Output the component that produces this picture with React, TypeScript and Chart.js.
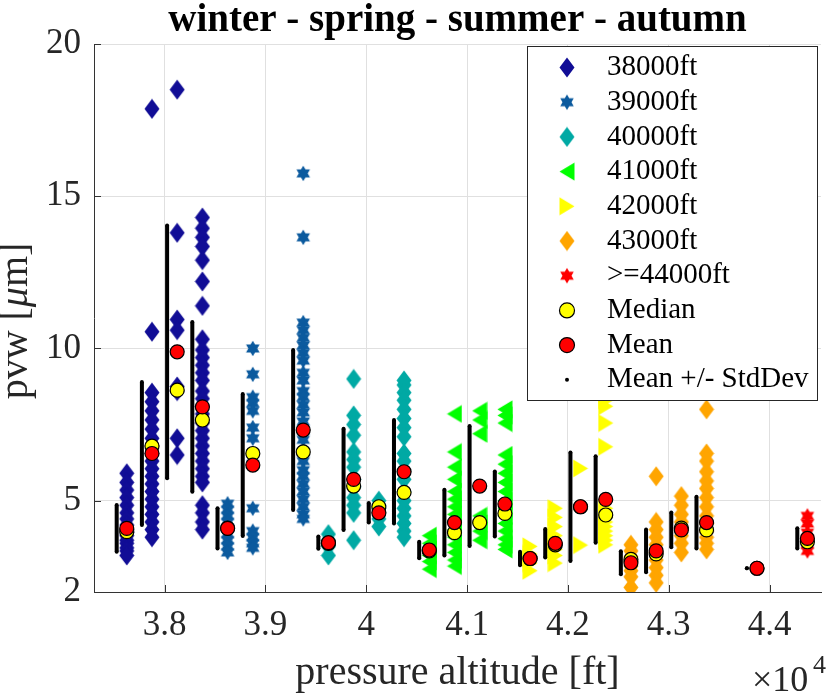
import React, { useRef, useEffect } from 'react';
import { Chart, registerables } from 'chart.js';

Chart.register(...registerables);

// pressure altitude classes and their legend names
const altitudes = [38000, 39000, 40000, 41000, 42000, 43000, 44000];
const altitudeLabels = ['38000ft', '39000ft', '40000ft', '41000ft', '42000ft', '43000ft', '>=44000ft'];
const seasons = ['winter', 'spring', 'summer', 'autumn'];
// x offset (ft) of each season column inside an altitude class
const seasonShift = [-375, -125, 125, 375];
const stdShift = -100;

const xTicks = [38000, 39000, 40000, 41000, 42000, 43000, 44000];
const yTicks = [2, 5, 10, 15, 20];

// pvw samples [um] per season: winter, spring, summer, autumn
const pvw38000 = [
  [5.9, 5.6, 5.35, 5.1, 4.85, 4.6, 4.4, 4.2, 4.05, 3.95, 3.85, 3.7, 3.6, 3.45, 3.35, 3.2],
  [17.87, 10.55, 8.55, 8.25, 7.95, 7.65, 7.35, 7.05, 6.8, 6.55, 6.3, 6.05, 5.8, 5.55, 5.3, 5.05, 4.8, 4.55, 4.3, 4.05, 3.8],
  [18.5, 13.8, 10.95, 10.6, 8.75, 8.6, 7.05, 6.5],
  [14.3, 13.95, 13.65, 13.35, 12.9, 12.2, 11.4, 10.3, 9.95, 9.7, 9.45, 9.2, 8.95, 8.6, 8.35, 8.1, 7.85, 7.55, 7.3, 7.05, 6.8, 6.55, 6.3, 6.05, 5.8, 5.6, 4.85, 4.6, 4.3, 4.05],
];
const pvw39000 = [
  [4.9, 4.7, 4.5, 4.3, 4.1, 3.9, 3.7, 3.5, 3.3],
  [10.0, 9.15, 8.4, 8.2, 7.95, 7.4, 7.05, 6.55, 6.2, 4.75, 4.0, 3.8, 3.6, 3.45],
  [],
  [15.75, 13.65, 10.85, 10.6, 10.35, 10.1, 9.85, 9.6, 9.2, 8.95, 8.6, 8.4, 8.15, 7.9, 7.6, 7.3, 7.0, 6.6, 6.3, 6.0, 5.8, 5.55, 5.3, 5.05, 4.8, 4.55, 4.4],
];
const pvw40000 = [
  [3.9, 3.7, 3.6, 3.5, 3.2],
  [9.0, 7.8, 7.5, 7.15, 6.6, 6.35, 6.1, 5.7, 5.45, 5.1, 4.85, 4.6, 3.7],
  [5.0, 4.85, 4.75, 4.6, 4.4, 4.15],
  [8.95, 8.8, 8.55, 8.3, 8.0, 7.7, 7.4, 7.1, 6.55, 6.3, 5.95, 5.7, 5.3, 5.0, 4.75, 4.5, 4.25, 4.0, 3.8],
];
const pvw41000 = [
  [3.85, 3.6, 3.4, 3.2, 3.0, 2.75],
  [7.85, 6.6, 6.1, 5.7, 5.3, 5.05, 4.8, 4.55, 4.3, 4.05, 3.8, 3.55, 3.3, 3.05, 2.85],
  [7.95, 7.65, 7.2, 4.5, 4.25, 4.0, 3.7],
  [8.0, 7.8, 7.55, 6.5, 6.2, 5.9, 5.6, 5.3, 5.0, 4.75, 4.5, 4.25, 4.0, 3.75, 3.55, 3.4],
];
const pvw42000 = [
  [3.5, 3.25, 3.1, 2.95, 2.7],
  [4.75, 4.45, 4.15, 3.85, 3.6, 3.4, 3.2, 2.95],
  [6.06, 3.54],
  [8.5, 8.3, 8.1, 7.55, 6.77, 4.75, 4.6, 4.45, 4.3, 4.15, 4.0, 3.85, 3.7, 3.55],
];
const pvw43000 = [
  [3.55, 3.35, 3.15, 3.0, 2.85, 2.7, 2.5, 2.15],
  [5.8, 4.3, 4.05, 3.8, 3.55, 3.3, 3.05, 2.8, 2.55, 2.3],
  [5.15, 4.85, 4.55, 4.3, 4.1, 3.85, 3.6, 3.3],
  [8.0, 6.55, 6.3, 5.95, 5.65, 5.4, 5.1, 4.8, 4.5, 4.25, 4.0, 3.8, 3.6, 3.4],
];
const pvw44000 = [
  [],
  [2.78],
  [],
  [4.5, 4.25, 3.95, 3.75, 3.55, 3.35],
];

// statistics per altitude class, per season (null = no data)
const medians = [
  [3.98, 6.79, 8.63, 7.65],
  [4.1, 6.55, null, 6.6],
  [3.6, 5.48, 4.8, 5.27],
  [3.35, 3.95, 4.28, 4.58],
  [3.1, 3.55, 4.8, 4.53],
  [3.07, 3.25, 4.1, 4.04],
  [null, 2.78, null, 3.65],
];
const means = [
  [4.09, 6.55, 9.89, 8.08],
  [4.09, 6.17, null, 7.32],
  [3.62, 5.7, 4.6, 5.95],
  [3.38, 4.28, 5.48, 4.89],
  [3.1, 3.6, 4.8, 5.04],
  [2.96, 3.35, 4.04, 4.28],
  [null, 2.78, null, 3.76],
];
const stdDevs = [
  [0.77, 2.35, 4.15, 2.79],
  [0.66, 2.33, null, 2.63],
  [0.2, 1.66, 0.32, 1.7],
  [0.27, 1.08, 1.97, 1.07],
  [0.22, 0.47, 1.78, 1.42],
  [0.38, 0.7, 0.57, 0.85],
  [null, 0, null, 0.33],
];

const samples = [pvw38000, pvw39000, pvw40000, pvw41000, pvw42000, pvw43000, pvw44000];
const colors = ['#110d96', '#0b5a9e', '#00a9a4', '#00ff00', '#ffff00', '#ffa500', '#ff0000'];
const shapes = ['diamond', 'hexagram', 'diamond', 'left', 'right', 'diamond', 'hexagram'];

const FONT = '"Liberation Serif"';

function makeMarker(shape: string, color: string): HTMLCanvasElement {
  const c = document.createElement('canvas');
  const g = c.getContext('2d')!;
  if (shape === 'diamond') {
    c.width = 16; c.height = 21;
    g.fillStyle = color;
    g.beginPath();
    g.moveTo(8, 0.5); g.lineTo(15.5, 10.5); g.lineTo(8, 20.5); g.lineTo(0.5, 10.5);
    g.closePath(); g.fill();
  } else if (shape === 'hexagram') {
    c.width = 16; c.height = 17;
    g.fillStyle = color;
    const R = 7.8, r = R / Math.sqrt(3);
    g.beginPath();
    for (let k = 0; k < 12; k++) {
      const a = -Math.PI / 2 + (k * Math.PI) / 6;
      const rr = k % 2 === 0 ? R : r;
      const px = 8 + rr * Math.cos(a), py = 8.5 + rr * Math.sin(a);
      if (k === 0) g.moveTo(px, py); else g.lineTo(px, py);
    }
    g.closePath(); g.fill();
  } else {
    c.width = 16; c.height = 19;
    g.fillStyle = color;
    g.beginPath();
    if (shape === 'left') {
      g.moveTo(0.5, 9.5); g.lineTo(15.5, 0.5); g.lineTo(15.5, 18.5);
    } else {
      g.moveTo(15.5, 9.5); g.lineTo(0.5, 0.5); g.lineTo(0.5, 18.5);
    }
    g.closePath(); g.fill();
  }
  return c;
}

const decorPlugin = {
  id: 'matlabDecor',
  afterDraw(chart: any) {
    const { ctx, chartArea, scales } = chart;
    const { left, right, top, bottom } = chartArea;
    ctx.save();

    // inward tick marks
    ctx.strokeStyle = '#333';
    ctx.lineWidth = 1;
    ctx.beginPath();
    xTicks.forEach((v) => {
      const px = Math.round(scales.x.getPixelForValue(v)) + 0.5;
      ctx.moveTo(px, bottom); ctx.lineTo(px, bottom - 7);
    });
    yTicks.forEach((v) => {
      const py = Math.round(scales.y.getPixelForValue(v)) + 0.5;
      ctx.moveTo(left, py); ctx.lineTo(left + 7, py);
    });
    ctx.stroke();

    // title
    ctx.fillStyle = '#000';
    ctx.textAlign = 'center';
    ctx.textBaseline = 'alphabetic';
    ctx.font = `bold 39px ${FONT}`;
    ctx.fillText(seasons.join(' - '), (left + right) / 2, 31);

    // x label
    ctx.fillStyle = '#262626';
    ctx.font = `40px ${FONT}`;
    ctx.fillText('pressure altitude [ft]', (left + right) / 2, 684);

    // exponent
    ctx.textAlign = 'left';
    ctx.font = `36px ${FONT}`;
    ctx.fillText('\u00d710', 752, 691);
    ctx.font = `26px ${FONT}`;
    ctx.fillText('4', 813, 673);

    // y label with italic mu
    ctx.save();
    ctx.translate(27, (top + bottom) / 2 + 3);
    ctx.rotate(-Math.PI / 2);
    const parts = [
      { t: 'pvw [', f: `40px ${FONT}` },
      { t: '\u03bc', f: `italic 40px ${FONT}` },
      { t: 'm]', f: `40px ${FONT}` },
    ];
    let total = 0;
    parts.forEach((p) => { ctx.font = p.f; total += ctx.measureText(p.t).width; });
    let cx = -total / 2;
    parts.forEach((p) => {
      ctx.font = p.f;
      ctx.fillText(p.t, cx, 0);
      cx += ctx.measureText(p.t).width;
    });
    ctx.restore();

    // legend box
    ctx.fillStyle = '#fff';
    ctx.fillRect(527, 46, 290, 354);
    ctx.strokeStyle = '#262626';
    ctx.strokeRect(527.5, 46.5, 290, 354);
    ctx.font = `29px ${FONT}`;
    ctx.textBaseline = 'middle';
    chart.data.datasets.forEach((ds: any, i: number) => {
      const y = 67.5 + i * 34.7;
      const x = 567;
      if (ds.pointStyle instanceof HTMLCanvasElement) {
        const img = ds.pointStyle;
        ctx.drawImage(img, x - img.width / 2, y - img.height / 2);
      } else {
        ctx.beginPath();
        ctx.arc(x, y, ds.legendRadius, 0, Math.PI * 2);
        ctx.fillStyle = ds.pointBackgroundColor;
        ctx.fill();
        if (ds.pointBorderWidth) {
          ctx.lineWidth = ds.pointBorderWidth;
          ctx.strokeStyle = '#000';
          ctx.stroke();
        }
      }
      ctx.fillStyle = '#000';
      ctx.fillText(ds.label, 607, y);
    });
    ctx.restore();
  },
};

const App: React.FC = () => {
  const canvas = useRef<HTMLCanvasElement>(null);

  useEffect(() => {
    document.body.style.margin = '0';
    if (!canvas.current) return;
    const ctx = canvas.current.getContext('2d');
    if (!ctx) return;

    const markers = shapes.map((s, i) => makeMarker(s, colors[i]));

    const altitudeSets = altitudes.map((alt, a) => ({
      label: altitudeLabels[a],
      data: samples[a].flatMap((vals, s) => vals.map((v) => ({ x: alt + seasonShift[s], y: v }))),
      pointStyle: markers[a],
      pointRadius: 8,
      order: 3,
    }));

    const medianData: any[] = [];
    const meanData: any[] = [];
    const stdData: any[] = [];
    altitudes.forEach((alt, a) => {
      seasonShift.forEach((shift, s) => {
        const m = means[a][s];
        const md = medians[a][s];
        const sd = stdDevs[a][s];
        if (md !== null) medianData.push({ x: alt + shift, y: md });
        if (m !== null && sd !== null) {
          meanData.push({ x: alt + shift, y: m });
          stdData.push({ x: alt + shift + stdShift, y: m - sd });
          stdData.push({ x: alt + shift + stdShift, y: m + sd });
          stdData.push({ x: alt + shift + stdShift, y: null });
        }
      });
    });

    const chart = new Chart(ctx, {
      type: 'scatter',
      data: {
        datasets: [
          ...altitudeSets,
          {
            label: 'Median',
            data: medianData,
            pointStyle: 'circle',
            pointRadius: 7,
            legendRadius: 7.5,
            pointBackgroundColor: '#ffff00',
            pointBorderColor: '#000',
            pointBorderWidth: 1.2,
            order: 1,
          },
          {
            label: 'Mean',
            data: meanData,
            pointStyle: 'circle',
            pointRadius: 7,
            legendRadius: 7.5,
            pointBackgroundColor: '#ff0000',
            pointBorderColor: '#000',
            pointBorderWidth: 1.2,
            order: 0,
          },
          {
            label: 'Mean +/- StdDev',
            data: stdData,
            showLine: true,
            spanGaps: false,
            borderColor: '#000',
            borderWidth: 4,
            pointStyle: 'circle',
            pointRadius: 2,
            legendRadius: 2,
            pointBackgroundColor: '#000',
            pointBorderWidth: 0,
            order: 2,
          },
        ] as any,
      },
      options: {
        animation: false,
        responsive: false,
        layout: { padding: { top: 44, left: 0, right: 0, bottom: 0 } },
        plugins: {
          legend: { display: false },
          tooltip: { enabled: false },
        },
        scales: {
          x: {
            type: 'linear',
            min: 37300,
            max: 44510,
            afterBuildTicks: (s: any) => { s.ticks = xTicks.map((v) => ({ value: v })); },
            afterFit: (s: any) => { s.height = 101; },
            grid: { color: '#e0e0e0', drawTicks: false },
            border: { color: '#333', width: 1 },
            ticks: {
              color: '#262626',
              padding: 13,
              maxRotation: 0,
              autoSkip: false,
              font: { family: FONT, size: 35 },
              callback: (v: any) => String(Number((Number(v) / 10000).toFixed(1))),
            },
          },
          y: {
            type: 'linear',
            min: 2,
            max: 20,
            afterBuildTicks: (s: any) => { s.ticks = yTicks.map((v) => ({ value: v })); },
            afterFit: (s: any) => { s.width = 94; },
            grid: { color: '#e0e0e0', drawTicks: false },
            border: { color: '#333', width: 1 },
            ticks: {
              color: '#262626',
              padding: 13,
              autoSkip: false,
              font: { family: FONT, size: 35 },
            },
          },
        },
      } as any,
      plugins: [decorPlugin],
    });

    return () => chart.destroy();
  }, []);

  return (
    <div style={{ width: 830, height: 693 }}>
      <canvas ref={canvas} width={830} height={693} style={{ display: 'block' }}></canvas>
    </div>
  );
};

export default App;
